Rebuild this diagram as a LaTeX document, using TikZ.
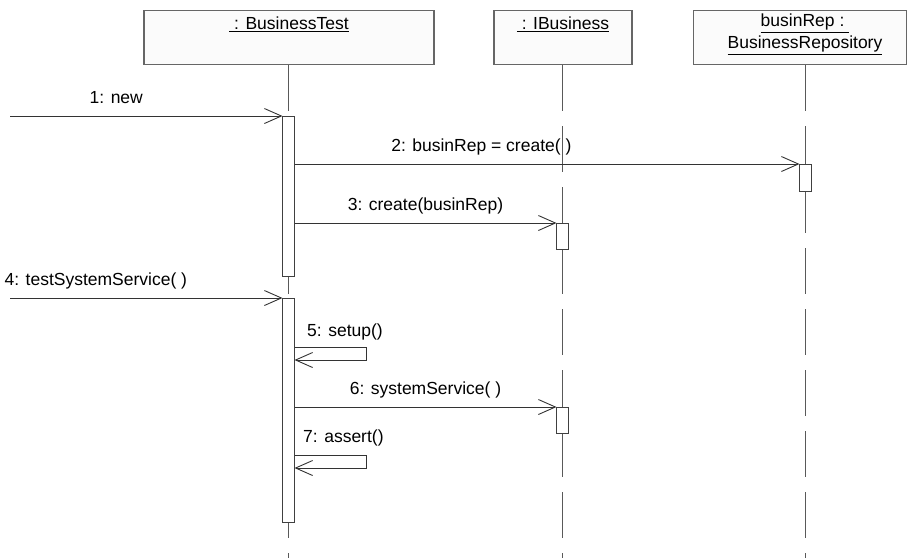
\documentclass[tikz,border=0pt]{standalone}
\usepackage{fontspec}
\setmainfont{Liberation Sans}
\usetikzlibrary{arrows.meta, positioning}

\begin{document}
\begin{tikzpicture}[x=1pt, y=-1pt,
  obj/.style={draw=gray!80!black, line width=1.1pt, fill=gray!3, minimum width=#1, minimum height=54pt, anchor=north, inner sep=0pt},
  objname/.style={font=\fontsize{17.5}{22}\selectfont, align=center, inner sep=0pt},
  life/.style={draw=gray!70!black, line width=0.8pt, dash pattern=on 46pt off 15pt},
  act/.style={draw=black!75, line width=0.9pt, fill=white, minimum width=12pt, minimum height=#1, anchor=north, inner sep=0pt, outer sep=0pt},
  msg/.style={draw=black!80, line width=0.9pt, -{Straight Barb[length=17pt, width=15pt]}},
  lbl/.style={font=\fontsize{17.5}{22}\selectfont, anchor=base, yshift=13pt, inner sep=0pt},
  selflbl/.style={font=\fontsize{17.5}{22}\selectfont, anchor=base west, inner sep=0pt}]
\useasboundingbox (0,0) rectangle (908,558);

% objects
\node [obj=290pt] (test) at (289,10) {};
\node [obj=138pt] (ibus) at (563,10) {};
\node [obj=213pt] (rep) at (800,10) {};
\node [objname, below=7pt of test.north] (testname) {\underline{\ : BusinessTest}};
\node [objname, below=7pt of ibus.north] (ibusname) {\underline{\ : IBusiness}};
\node [objname, below=4pt of rep.north, xshift=5pt] (repname) {\underline{businRep :\ }\\\underline{BusinessRepository}};

% lifelines
\coordinate (xt) at (288.5,0);
\coordinate (xb) at (562.5,0);
\coordinate (xr) at (805.5,0);
\coordinate (bottom) at (0,558);
\draw [life] (xt |- test.south) -- (xt |- bottom);
\draw [life] (xb |- ibus.south) -- (xb |- bottom);
\draw [life] (xr |- rep.south) -- (xr |- bottom);

% activations
\node [act=160pt] (t1) at (xt |- 0,116) {};
\node [act=224pt] (t2) at (xt |- 0,298) {};
\node [act=26pt] (b1) at (xb |- 0,223) {};
\node [act=26pt] (b2) at (xb |- 0,407) {};
\node [act=27pt] (r1) at (xr |- 0,164) {};

% messages
\coordinate (in1) at (10,116);
\coordinate (in4) at (10,298);
\draw [msg] (in1) -- (t1.north west) node [lbl, pos=0.39] {1: new};
\draw [msg] (t1.east |- r1.north) -- (r1.north west) node [lbl, pos=0.37] {2: businRep = create( )};
\draw [msg] (t1.east |- b1.north) -- (b1.north west) node [lbl, pos=0.5] {3: create(businRep)};
\draw [msg] (in4) -- (t2.north west) node [lbl, pos=0.315] {4: testSystemService( )};

\coordinate (s5) at (0,347);
\draw [msg] (t2.east |- s5) -- ++(72,0) -- ++(0,13) -- ++(-72,0);
\node [selflbl] (l5) at (307,336) {5: setup()};

\draw [msg] (t2.east |- b2.north) -- (b2.north west) node [lbl, pos=0.5] {6: systemService( )};

\coordinate (s7) at (0,455);
\draw [msg] (t2.east |- s7) -- ++(72,0) -- ++(0,13) -- ++(-72,0);
\node [selflbl] (l7) at (303,442) {7: assert()};
\end{tikzpicture}
\end{document}
